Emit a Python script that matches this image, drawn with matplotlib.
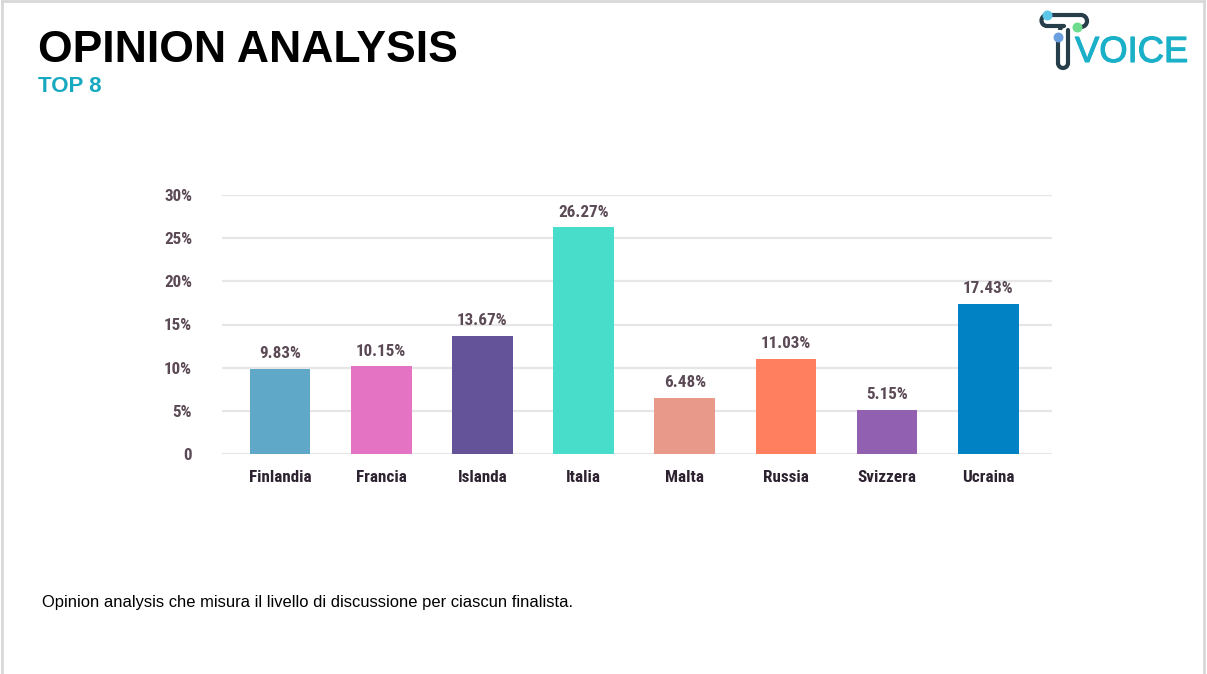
import matplotlib.pyplot as plt
import matplotlib.patheffects as pe
from matplotlib.patches import Arc

# data
paesi = ["Finlandia", "Francia", "Islanda", "Italia", "Malta", "Russia", "Svizzera", "Ucraina"]
valori = [9.83, 10.15, 13.67, 26.27, 6.48, 11.03, 5.15, 17.43]
colori = ["#5fa8c8", "#e573c4", "#65539a", "#48dccb", "#e9998a", "#ff7f5e", "#9160b0", "#0082c4"]
yticks = [0, 5, 10, 15, 20, 25, 30]
ytick_labels = ["0", "5%", "10%", "15%", "20%", "25%", "30%"]

narrow = ["Roboto Condensed", "Archivo Narrow", "DejaVu Sans"]
sans = ["Liberation Sans", "DejaVu Sans"]
lab_col = "#5b4a55"

W, H = 1207, 674
fig = plt.figure(figsize=(W / 100, H / 100), dpi=100)
fig.patch.set_facecolor("white")

# chart
ax = fig.add_axes([222 / W, 1 - 454 / H, 830 / W, 259 / H])
x = list(range(len(paesi)))
bars = ax.bar(x, valori, width=0.6, color=colori, zorder=3)
ax.set_xlim(-0.573, 7.63)
ax.set_ylim(0, 30)
ax.set_yticks(yticks)
ax.set_yticklabels(ytick_labels, family=narrow, fontweight="bold", fontsize=12.3, color=lab_col)
ax.set_xticks(x)
ax.set_xticklabels(paesi, family=narrow, fontweight="bold", fontsize=12.3, color="#2d2230")
ax.tick_params(axis="y", length=0, pad=21.5)
ax.tick_params(axis="x", length=0, pad=11.5)
ax.grid(axis="y", color="#e6e6e6", linewidth=1.6, zorder=0)
ax.set_axisbelow(True)
for s in ax.spines.values():
    s.set_visible(False)

for b, v in zip(bars, valori):
    ax.annotate(f"{v:.2f}%", (b.get_x() + b.get_width() / 2, v),
                xytext=(0, 5.5), textcoords="offset points", ha="center", va="bottom",
                family=narrow, fontweight="bold", fontsize=12.3, color=lab_col)

# overlay in pixel coordinates for page decoration
ov = fig.add_axes([0, 0, 1, 1], zorder=-1)
ov.set_xlim(0, W)
ov.set_ylim(H, 0)
ov.axis("off")

# page border
ov.plot([2, 2], [H, 1], color="#d8d8d8", lw=2)
ov.plot([2, 1204], [1, 1], color="#d8d8d8", lw=2)
ov.plot([1204, 1204], [1, H], color="#d8d8d8", lw=2)

ov.text(38, 62, "OPINION ANALYSIS", family=sans, fontweight="bold", fontsize=32,
        color="black", va="baseline", ha="left")
ov.text(38, 92, "TOP 8", family=sans, fontweight="bold", fontsize=16,
        color="#16a9c0", va="baseline", ha="left")
ov.text(42, 607, "Opinion analysis che misura il livello di discussione per ciascun finalista.",
        family=sans, fontsize=11.9, color="black", va="baseline", ha="left")

# logo
navy = "#263d4a"
lw = 3.0
ov.plot([1047, 1081], [15, 15], color=navy, lw=lw, solid_capstyle="round")
ov.add_patch(Arc((1081, 21), 12, 12, theta1=-90, theta2=90, color=navy, lw=lw))
ov.plot([1081, 1077], [27, 27], color=navy, lw=lw, solid_capstyle="round")
ov.add_patch(Arc((1047, 20.5), 11, 11, theta1=90, theta2=270, color=navy, lw=lw))
ov.plot([1047, 1064], [26, 26], color=navy, lw=lw, solid_capstyle="round")
ov.add_patch(Arc((1064, 30), 8, 8, theta1=180, theta2=270, color=navy, lw=lw))
ov.plot([1068, 1068], [30, 63], color=navy, lw=lw, solid_capstyle="round")
ov.add_patch(Arc((1063, 63), 10, 10, theta1=0, theta2=180, color=navy, lw=lw))
ov.plot([1058, 1058], [37, 63], color=navy, lw=lw, solid_capstyle="round")
ov.scatter([1047], [15], s=38, color="#5bc8e8", zorder=5)
ov.scatter([1077], [27], s=38, color="#6ddc8c", zorder=5)
ov.scatter([1058], [37], s=38, color="#6aa0e0", zorder=5)
ov.text(1075, 62, "VOICE", family=sans, fontsize=26.2, color="#1ab0c8",
        va="baseline", ha="left",
        path_effects=[pe.withStroke(linewidth=0.8, foreground="#1ab0c8")])

fig.savefig("out.png", dpi=100)
